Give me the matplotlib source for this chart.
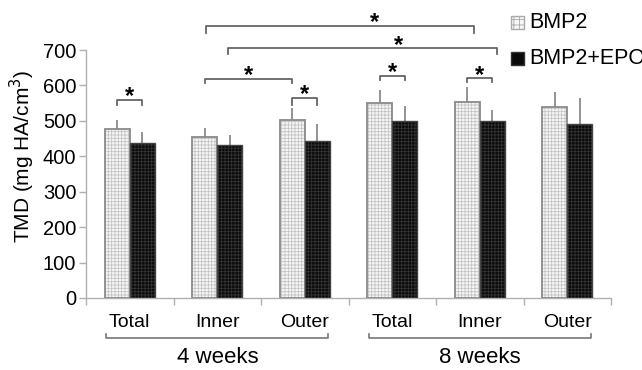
import matplotlib
matplotlib.use("Agg")
import matplotlib.pyplot as plt
from matplotlib.patches import Rectangle
import numpy as np

plt.rcParams['font.family'] = ['Liberation Sans', 'DejaVu Sans']

categories = ["Total", "Inner", "Outer", "Total", "Inner", "Outer"]
groups = ["4 weeks", "8 weeks"]
bmp2 = [478, 455, 503, 551, 554, 540]
bmp2_err = [25, 26, 34, 37, 42, 42]
epo = [438, 433, 444, 500, 500, 492]
epo_err = [31, 28, 48, 43, 31, 73]
series_labels = ["BMP2", "BMP2+EPO"]
yticks = [0, 100, 200, 300, 400, 500, 600, 700]

fig = plt.figure(figsize=(6.42, 3.70), dpi=100)
ax = fig.add_axes([0.134, 0.1946, 0.818, 0.766])

x = np.arange(len(categories))
w = 0.286
gray = '#8a8a8a'
plt.rcParams['hatch.linewidth'] = 0.6

# BMP2 bars
ax.bar(x - w/2, bmp2, w, color='#f7f7f7', edgecolor='#c4c4c4', hatch='+++++', linewidth=0, zorder=2)
ax.bar(x - w/2, bmp2, w, fill=False, edgecolor=gray, linewidth=1.3, zorder=3)
# EPO bars
ax.bar(x + w/2, epo, w, color='#0a0a0a', edgecolor='#333333', hatch='+++++', linewidth=0, zorder=2)
ax.bar(x + w/2, epo, w, fill=False, edgecolor='#444444', linewidth=1.0, zorder=3)

# upward error bars (no caps)
ax.vlines(x - w/2, bmp2, np.array(bmp2) + np.array(bmp2_err), color=gray, lw=1.3, zorder=1)
ax.vlines(x + w/2, epo, np.array(epo) + np.array(epo_err), color=gray, lw=1.3, zorder=1)

ax.set_xlim(-0.5, 5.5)
ax.set_ylim(0, 800)
for s in ['top', 'right']:
    ax.spines[s].set_visible(False)
ax.spines['left'].set_bounds(0, 700)
ax.spines['left'].set_color('#b0b0b0')
ax.spines['bottom'].set_color('#b0b0b0')
ax.spines['left'].set_linewidth(1.0)
ax.spines['bottom'].set_linewidth(1.0)
ax.set_yticks(yticks)
ax.set_yticklabels([str(v) for v in yticks], fontsize=14.5)
ax.tick_params(axis='y', color='#b0b0b0', length=5, width=1, pad=2)
ax.set_xticks(np.arange(-0.5, 6, 1))
ax.set_xticklabels([])
ax.tick_params(axis='x', color='#b0b0b0', length=5, width=1)
ax.set_ylabel("TMD (mg HA/cm$^3$)", fontsize=15, labelpad=4)

for i, c in enumerate(categories):
    ax.text(i, -68, c, ha='center', va='center', fontsize=14, clip_on=False)

# group brackets below
def group_bracket(x1, x2, y, label):
    h = 9
    ax.plot([x1, x1, x2, x2], [y + h, y, y, y + h], color='#777777', lw=1.2, clip_on=False)
    ax.text((x1 + x2) / 2, y - 55, label, ha='center', va='center', fontsize=16, clip_on=False)

group_bracket(-0.27, 2.27, -112, groups[0])
group_bracket(2.73, 5.27, -112, groups[1])

# significance brackets
def sig(x1, x2, y, yl, sx=None):
    ax.plot([x1, x1, x2, x2], [yl, y, y, yl], color='#666666', lw=1.3, clip_on=False)
    if sx is None:
        sx = (x1 + x2) / 2
    ax.text(sx, y - 10, '*', ha='center', va='baseline', fontsize=17, fontweight='bold', clip_on=False)

sig(0 - w/2, 0 + w/2, 560, 545)
sig(2 - w/2, 2 + w/2, 565, 545)
sig(1 - w/2, 2 - w/2, 619, 607)
sig(3 - w/2, 3 + w/2, 627, 615)
sig(4 - w/2, 4 + w/2, 621, 610)
sig(0.871, 3.934, 768, 748, sx=2.80)
sig(1.123, 4.197, 705, 688, sx=3.07)

# legend (manual, in figure fractions)
sq_w, sq_h = 13 / 642, 13 / 370
fig.add_artist(Rectangle((511 / 642, 1 - 29 / 370), sq_w, sq_h, transform=fig.transFigure,
                         facecolor='#f7f7f7', edgecolor='#aaaaaa', hatch='+++', lw=1.0))
fig.add_artist(Rectangle((511 / 642, 1 - 65 / 370), sq_w, sq_h, transform=fig.transFigure,
                         facecolor='#0a0a0a', edgecolor='#333333', lw=1.0))
fig.text(529 / 642, 1 - 22 / 370, series_labels[0], fontsize=15.5, va='center', ha='left')
fig.text(529 / 642, 1 - 58 / 370, series_labels[1], fontsize=15.5, va='center', ha='left')

fig.savefig("out.png", dpi=100)
